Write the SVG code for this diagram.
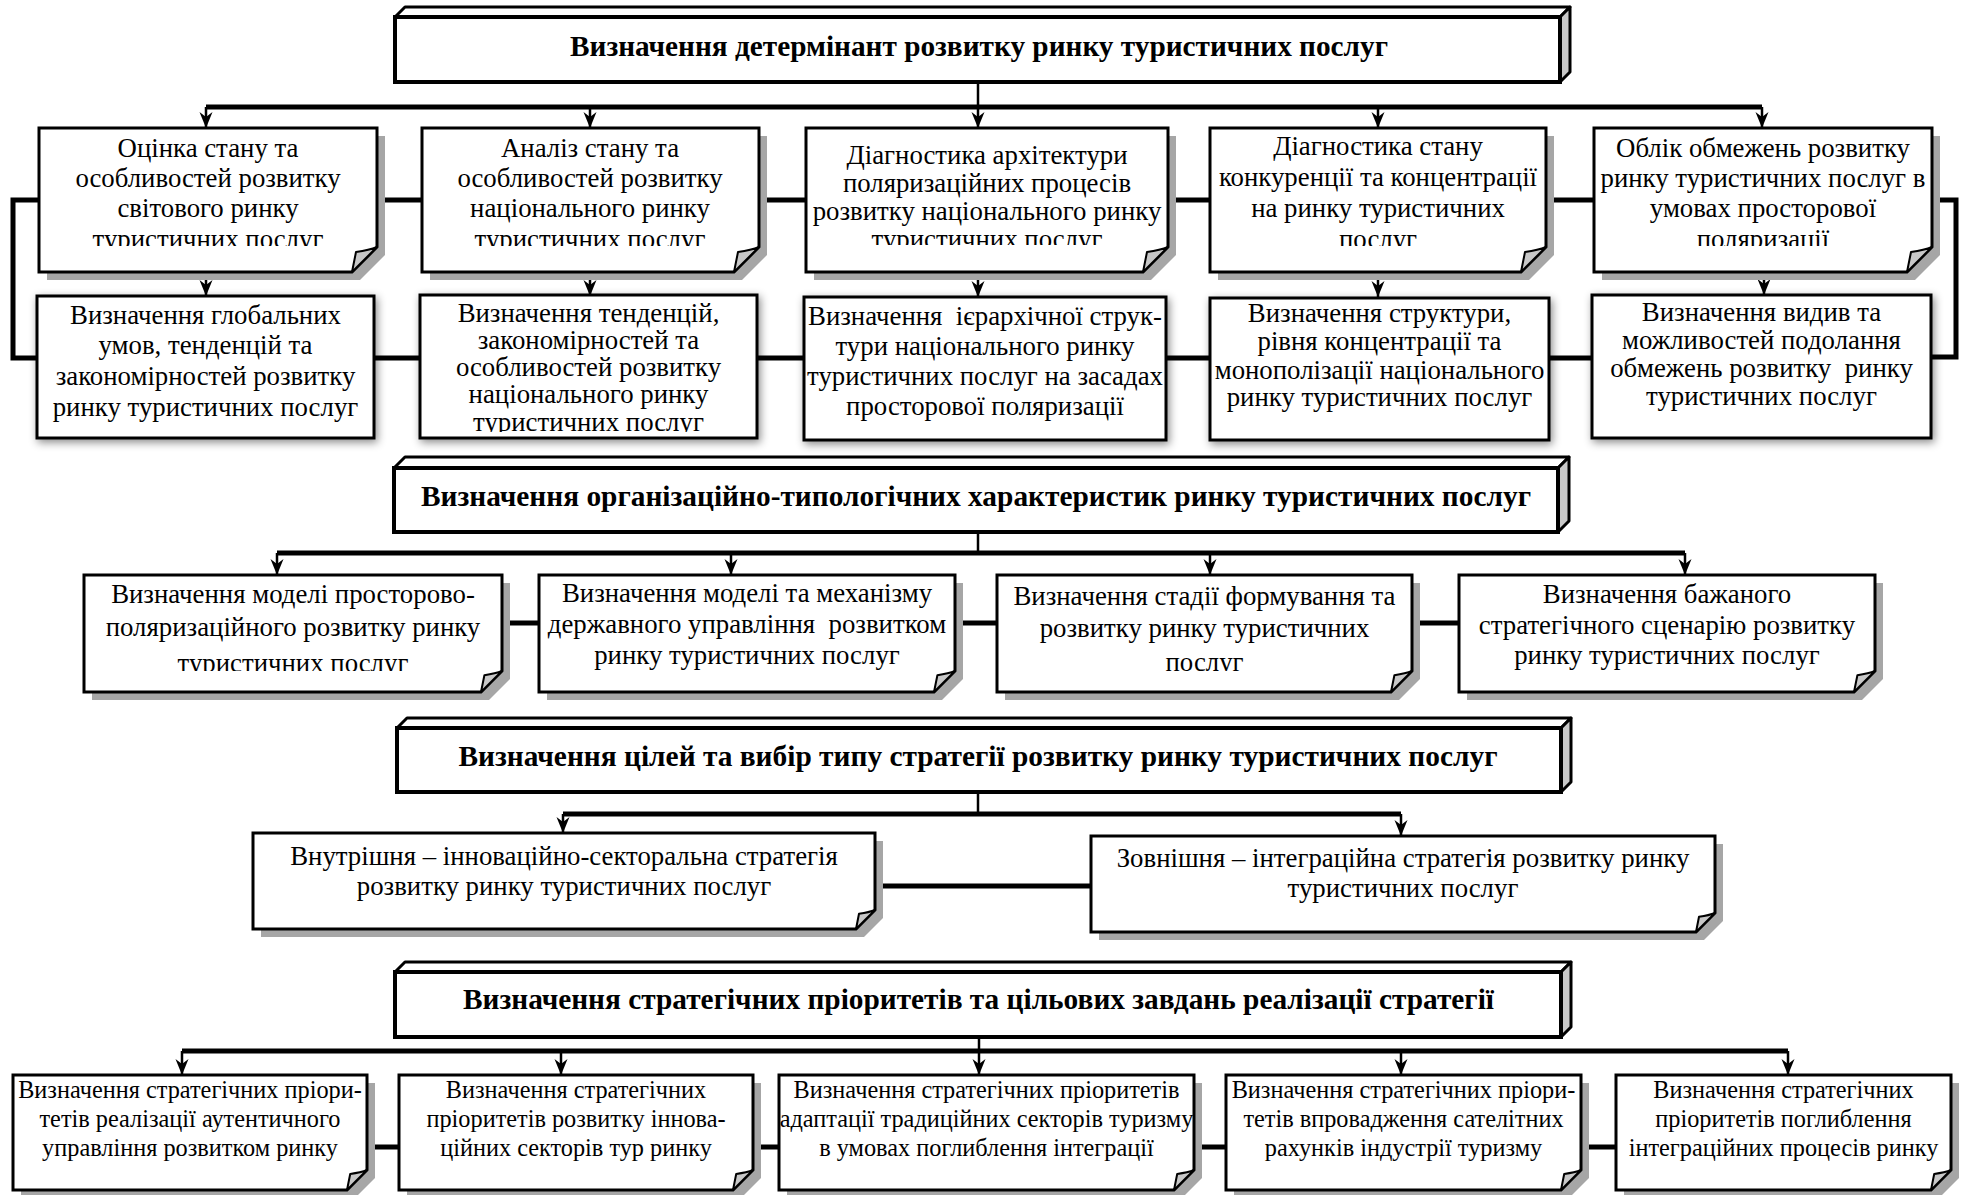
<svg xmlns="http://www.w3.org/2000/svg" width="1964" height="1195" viewBox="0 0 1964 1195">
<style>
.t{font-family:"Liberation Serif","Times New Roman",serif;font-size:26.8px;text-anchor:middle;fill:#000}
.s{font-size:24.3px}
.h{font-family:"Liberation Serif","Times New Roman",serif;font-weight:bold;font-size:29px;text-anchor:middle;fill:#000}
.box{fill:#fff;stroke:#000;stroke-width:3;stroke-linejoin:miter}
.sh{fill:#a6a6a6}
.fold{fill:#c8c8c8;stroke:#000;stroke-width:2;stroke-linejoin:round}
.hf{fill:#fff;stroke:#000;stroke-width:4}
.ht{fill:#fff;stroke:#000;stroke-width:3;stroke-linejoin:round}
.hs{fill:#c8c8c8;stroke:#000;stroke-width:3;stroke-linejoin:round}
.bus{stroke:#000;stroke-width:5;fill:none}
.stem{stroke:#000;stroke-width:2.5;fill:none}
.arr{stroke:#000;stroke-width:2.5;fill:none;marker-end:url(#ah)}
</style>
<defs>
<marker id="ah" viewBox="0 0 16 14" refX="16" refY="7" markerWidth="16" markerHeight="14" markerUnits="userSpaceOnUse" orient="auto">
<path d="M0,0.5 L16,7 L0,13.5 L5,7 Z" fill="#000"/>
</marker>
<filter id="glow" x="-10%" y="-15%" width="120%" height="135%">
<feDropShadow dx="2" dy="3" stdDeviation="4" flood-color="#000" flood-opacity="0.45"/>
</filter>
<clipPath id="cA"><rect x="39" y="128" width="340" height="118"/></clipPath>
<clipPath id="cB"><rect x="422" y="128" width="340" height="118"/></clipPath>
<clipPath id="cC"><rect x="806" y="128" width="365" height="117"/></clipPath>
<clipPath id="cD"><rect x="1210" y="128" width="340" height="118"/></clipPath>
<clipPath id="cE"><rect x="1594" y="128" width="340" height="118"/></clipPath>
<clipPath id="cB2"><rect x="420" y="296" width="337" height="136"/></clipPath>
<clipPath id="cF1"><rect x="84" y="575" width="420" height="96"/></clipPath>
<clipPath id="cF3"><rect x="997" y="575" width="416" height="96"/></clipPath>
</defs>

<g id="connectors">
<!-- level 1 -->
<path class="bus" d="M206,107 H1762"/>
<path class="arr" d="M978,82 V128"/>
<path class="arr" d="M206,107 V128"/>
<path class="arr" d="M590,107 V128"/>
<path class="arr" d="M1378,107 V128"/>
<path class="arr" d="M1762,107 V128"/>
<path class="arr" d="M206,272 V296"/>
<path class="arr" d="M590,272 V296"/>
<path class="arr" d="M978,272 V297"/>
<path class="arr" d="M1378,272 V297"/>
<path class="arr" d="M1764,272 V295"/>
<path class="bus" d="M377,200 H422 M759,200 H806 M1168,200 H1210 M1546,200 H1594"/>
<path class="bus" d="M374,358 H420 M757,358 H804 M1166,358 H1210 M1549,358 H1592"/>
<path class="bus" d="M39,200 H13 V358 H37"/>
<path class="bus" d="M1932,200 H1956 V357 H1931"/>
<!-- level 2 -->
<path class="stem" d="M978,532 V553"/>
<path class="bus" d="M277,553 H1685"/>
<path class="arr" d="M277,553 V575"/>
<path class="arr" d="M731,553 V575"/>
<path class="arr" d="M1210,553 V575"/>
<path class="arr" d="M1685,553 V575"/>
<path class="bus" d="M502,623 H539 M955,623 H997 M1412,623 H1459"/>
<!-- level 3 -->
<path class="stem" d="M978,792 V814"/>
<path class="bus" d="M563,814 H1401"/>
<path class="arr" d="M563,814 V833"/>
<path class="arr" d="M1401,814 V836"/>
<path class="bus" d="M875,886 H1091"/>
<!-- level 4 -->
<path class="arr" d="M979,1037 V1075"/>
<path class="bus" d="M182,1051 H1788"/>
<path class="arr" d="M182,1051 V1075"/>
<path class="arr" d="M561,1051 V1075"/>
<path class="arr" d="M1401,1051 V1075"/>
<path class="arr" d="M1788,1051 V1075"/>
<path class="bus" d="M367,1147 H399 M753,1147 H779 M1194,1147 H1226 M1581,1147 H1616"/>
</g>

<!-- Header 1 -->
<g id="head1">
<polygon class="ht" points="395,17 405,7 1570,7 1560,17"/>
<polygon class="hs" points="1560,17 1570,7 1570,72 1560,82"/>
<rect class="hf" x="395" y="17" width="1165" height="65"/>
<text class="h" x="979" y="56" textLength="818" lengthAdjust="spacingAndGlyphs">Визначення детермінант розвитку ринку туристичних послуг</text>
</g>

<!-- Row 1 -->
<g id="nA">
<path class="sh" transform="translate(8,8)" d="M39,128 H377 V247 L352,272 H39 Z"/>
<path class="box" d="M39,128 H377 V247 L352,272 H39 Z"/>
<path class="fold" d="M352,272 L356,252 Q369.5,250 377,247 Z"/>
<g clip-path="url(#cA)">
<text class="t" x="208" y="157">Оцінка стану та</text>
<text class="t" x="208" y="187">особливостей розвитку</text>
<text class="t" x="208" y="217">світового ринку</text>
<text class="t" x="208" y="248">туристичних послуг</text>
</g>
</g>
<g id="nB">
<path class="sh" transform="translate(8,8)" d="M422,128 H759 V247 L734,272 H422 Z"/>
<path class="box" d="M422,128 H759 V247 L734,272 H422 Z"/>
<path class="fold" d="M734,272 L738,252 Q751.5,250 759,247 Z"/>
<g clip-path="url(#cB)">
<text class="t" x="590" y="157">Аналіз стану та</text>
<text class="t" x="590" y="187">особливостей розвитку</text>
<text class="t" x="590" y="217">національного ринку</text>
<text class="t" x="590" y="248">туристичних послуг</text>
</g>
</g>
<g id="nC">
<path class="sh" transform="translate(8,8)" d="M806,128 H1168 V247 L1143,272 H806 Z"/>
<path class="box" d="M806,128 H1168 V247 L1143,272 H806 Z"/>
<path class="fold" d="M1143,272 L1147,252 Q1160.5,250 1168,247 Z"/>
<g clip-path="url(#cC)">
<text class="t" x="987" y="164">Діагностика архітектури</text>
<text class="t" x="987" y="192">поляризаційних процесів</text>
<text class="t" x="987" y="220">розвитку національного ринку</text>
<text class="t" x="987" y="248">туристичних послуг</text>
</g>
</g>
<g id="nD">
<path class="sh" transform="translate(8,8)" d="M1210,128 H1546 V247 L1521,272 H1210 Z"/>
<path class="box" d="M1210,128 H1546 V247 L1521,272 H1210 Z"/>
<path class="fold" d="M1521,272 L1525,252 Q1538.5,250 1546,247 Z"/>
<g clip-path="url(#cD)">
<text class="t" x="1378" y="155">Діагностика стану</text>
<text class="t" x="1378" y="186">конкуренції та концентрації</text>
<text class="t" x="1378" y="217">на ринку туристичних</text>
<text class="t" x="1378" y="248">послуг</text>
</g>
</g>
<g id="nE">
<path class="sh" transform="translate(8,8)" d="M1594,128 H1932 V247 L1907,272 H1594 Z"/>
<path class="box" d="M1594,128 H1932 V247 L1907,272 H1594 Z"/>
<path class="fold" d="M1907,272 L1911,252 Q1924.5,250 1932,247 Z"/>
<g clip-path="url(#cE)">
<text class="t" x="1763" y="157">Облік обмежень розвитку</text>
<text class="t" x="1763" y="187">ринку туристичних послуг в</text>
<text class="t" x="1763" y="217">умовах просторової</text>
<text class="t" x="1763" y="248">поляризації</text>
</g>
</g>

<!-- Row 2 -->
<g id="nA2">
<rect class="box" x="37" y="296" width="337" height="142" filter="url(#glow)"/>
<text class="t" x="205.5" y="324">Визначення глобальних</text>
<text class="t" x="205.5" y="354">умов, тенденцій та</text>
<text class="t" x="205.5" y="385">закономірностей розвитку</text>
<text class="t" x="205.5" y="416">ринку туристичних послуг</text>
</g>
<g id="nB2">
<rect class="box" x="420" y="295" width="337" height="143" filter="url(#glow)"/>
<g clip-path="url(#cB2)">
<text class="t" x="588.5" y="322">Визначення тенденцій,</text>
<text class="t" x="588.5" y="349">закономірностей та</text>
<text class="t" x="588.5" y="376">особливостей розвитку</text>
<text class="t" x="588.5" y="403">національного ринку</text>
<text class="t" x="588.5" y="431">туристичних послуг</text>
</g>
</g>
<g id="nC2">
<rect class="box" x="804" y="297" width="362" height="143" filter="url(#glow)"/>
<text class="t" x="985" y="325" xml:space="preserve">Визначення  ієрархічної струк-</text>
<text class="t" x="985" y="355">тури національного ринку</text>
<text class="t" x="985" y="385">туристичних послуг на засадах</text>
<text class="t" x="985" y="415">просторової поляризації</text>
</g>
<g id="nD2">
<rect class="box" x="1210" y="298" width="339" height="142" filter="url(#glow)"/>
<text class="t" x="1379.5" y="322">Визначення структури,</text>
<text class="t" x="1379.5" y="350">рівня концентрації та</text>
<text class="t" x="1379.5" y="379">монополізації національного</text>
<text class="t" x="1379.5" y="406">ринку туристичних послуг</text>
</g>
<g id="nE2">
<rect class="box" x="1592" y="295" width="339" height="143" filter="url(#glow)"/>
<text class="t" x="1761.5" y="321">Визначення видив та</text>
<text class="t" x="1761.5" y="349">можливостей подолання</text>
<text class="t" x="1761.5" y="377" xml:space="preserve">обмежень розвитку  ринку</text>
<text class="t" x="1761.5" y="405">туристичних послуг</text>
</g>

<!-- Header 2 -->
<g id="head2">
<polygon class="ht" points="394,468 405,457 1569,457 1558,468"/>
<polygon class="hs" points="1558,468 1569,457 1569,521 1558,532"/>
<rect class="hf" x="394" y="468" width="1164" height="64"/>
<text class="h" x="976" y="506" textLength="1110" lengthAdjust="spacingAndGlyphs">Визначення організаційно-типологічних характеристик ринку туристичних послуг</text>
</g>

<!-- Row 3 -->
<g id="nF1">
<path class="sh" transform="translate(8,8)" d="M84,575 H502 V671 L481,692 H84 Z"/>
<path class="box" d="M84,575 H502 V671 L481,692 H84 Z"/>
<path class="fold" d="M481,692 L484.4,675.2 Q495.7,673.5 502,671 Z"/>
<g clip-path="url(#cF1)">
<text class="t" x="293" y="603">Визначення моделі просторово-</text>
<text class="t" x="293" y="636">поляризаційного розвитку ринку</text>
<text class="t" x="293" y="672">туристичних послуг</text>
</g>
</g>
<g id="nF2">
<path class="sh" transform="translate(8,8)" d="M539,575 H955 V671 L934,692 H539 Z"/>
<path class="box" d="M539,575 H955 V671 L934,692 H539 Z"/>
<path class="fold" d="M934,692 L937.4,675.2 Q948.7,673.5 955,671 Z"/>
<text class="t" x="747" y="602">Визначення моделі та механізму</text>
<text class="t" x="747" y="633" xml:space="preserve">державного управління  розвитком</text>
<text class="t" x="747" y="664">ринку туристичних послуг</text>
</g>
<g id="nF3">
<path class="sh" transform="translate(8,8)" d="M997,575 H1412 V671 L1391,692 H997 Z"/>
<path class="box" d="M997,575 H1412 V671 L1391,692 H997 Z"/>
<path class="fold" d="M1391,692 L1394.4,675.2 Q1405.7,673.5 1412,671 Z"/>
<g clip-path="url(#cF3)">
<text class="t" x="1204.5" y="605">Визначення стадії формування та</text>
<text class="t" x="1204.5" y="637">розвитку ринку туристичних</text>
<text class="t" x="1204.5" y="671">послуг</text>
</g>
</g>
<g id="nF4">
<path class="sh" transform="translate(8,8)" d="M1459,575 H1875 V671 L1854,692 H1459 Z"/>
<path class="box" d="M1459,575 H1875 V671 L1854,692 H1459 Z"/>
<path class="fold" d="M1854,692 L1857.4,675.2 Q1868.7,673.5 1875,671 Z"/>
<text class="t" x="1667" y="603">Визначення бажаного</text>
<text class="t" x="1667" y="634">стратегічного сценарію розвитку</text>
<text class="t" x="1667" y="664">ринку туристичних послуг</text>
</g>

<!-- Header 3 -->
<g id="head3">
<polygon class="ht" points="397,728 407,718 1571,718 1561,728"/>
<polygon class="hs" points="1561,728 1571,718 1571,782 1561,792"/>
<rect class="hf" x="397" y="728" width="1164" height="64"/>
<text class="h" x="978" y="766" textLength="1039" lengthAdjust="spacingAndGlyphs">Визначення цілей та вибір типу стратегії розвитку ринку туристичних послуг</text>
</g>

<!-- Row 4 -->
<g id="nG1">
<path class="sh" transform="translate(8,8)" d="M253,833 H875 V910 L856,929 H253 Z"/>
<path class="box" d="M253,833 H875 V910 L856,929 H253 Z"/>
<path class="fold" d="M856,929 L859,913.8 Q869.3,912.3 875,910 Z"/>
<text class="t" x="564" y="865">Внутрішня – інноваційно-секторальна стратегія</text>
<text class="t" x="564" y="895">розвитку ринку туристичних послуг</text>
</g>
<g id="nG2">
<path class="sh" transform="translate(8,8)" d="M1091,836 H1715 V913 L1696,932 H1091 Z"/>
<path class="box" d="M1091,836 H1715 V913 L1696,932 H1091 Z"/>
<path class="fold" d="M1696,932 L1699,916.8 Q1709.3,915.3 1715,913 Z"/>
<text class="t" x="1403" y="867">Зовнішня – інтеграційна стратегія розвитку ринку</text>
<text class="t" x="1403" y="897">туристичних послуг</text>
</g>

<!-- Header 4 -->
<g id="head4">
<polygon class="ht" points="395,972 405,962 1571,962 1561,972"/>
<polygon class="hs" points="1561,972 1571,962 1571,1027 1561,1037"/>
<rect class="hf" x="395" y="972" width="1166" height="65"/>
<text class="h" x="978.5" y="1009" textLength="1031" lengthAdjust="spacingAndGlyphs">Визначення стратегічних пріоритетів та цільових завдань реалізації стратегії</text>
</g>

<!-- Row 5 -->
<g id="nH1">
<path class="sh" transform="translate(8,8)" d="M13,1075 H367 V1170 L347,1190 H13 Z"/>
<path class="box" d="M13,1075 H367 V1170 L347,1190 H13 Z"/>
<path class="fold" d="M347,1190 L350.2,1174 Q361,1172.4 367,1170 Z"/>
<text class="t s" x="190" y="1098">Визначення стратегічних пріори-</text>
<text class="t s" x="190" y="1127">тетів реалізації аутентичного</text>
<text class="t s" x="190" y="1156">управління розвитком ринку</text>
</g>
<g id="nH2">
<path class="sh" transform="translate(8,8)" d="M399,1075 H753 V1170 L733,1190 H399 Z"/>
<path class="box" d="M399,1075 H753 V1170 L733,1190 H399 Z"/>
<path class="fold" d="M733,1190 L736.2,1174 Q747,1172.4 753,1170 Z"/>
<text class="t s" x="576" y="1098">Визначення стратегічних</text>
<text class="t s" x="576" y="1127">пріоритетів розвитку іннова-</text>
<text class="t s" x="576" y="1156">ційних секторів тур ринку</text>
</g>
<g id="nH3">
<path class="sh" transform="translate(8,8)" d="M779,1075 H1194 V1170 L1174,1190 H779 Z"/>
<path class="box" d="M779,1075 H1194 V1170 L1174,1190 H779 Z"/>
<path class="fold" d="M1174,1190 L1177.2,1174 Q1188,1172.4 1194,1170 Z"/>
<text class="t s" x="986.5" y="1098">Визначення стратегічних пріоритетів</text>
<text class="t s" x="986.5" y="1127">адаптації традиційних секторів туризму</text>
<text class="t s" x="986.5" y="1156">в умовах поглиблення інтеграції</text>
</g>
<g id="nH4">
<path class="sh" transform="translate(8,8)" d="M1226,1075 H1581 V1170 L1561,1190 H1226 Z"/>
<path class="box" d="M1226,1075 H1581 V1170 L1561,1190 H1226 Z"/>
<path class="fold" d="M1561,1190 L1564.2,1174 Q1575,1172.4 1581,1170 Z"/>
<text class="t s" x="1403.5" y="1098">Визначення стратегічних пріори-</text>
<text class="t s" x="1403.5" y="1127">тетів впровадження сателітних</text>
<text class="t s" x="1403.5" y="1156">рахунків індустрії туризму</text>
</g>
<g id="nH5">
<path class="sh" transform="translate(8,8)" d="M1616,1075 H1951 V1170 L1931,1190 H1616 Z"/>
<path class="box" d="M1616,1075 H1951 V1170 L1931,1190 H1616 Z"/>
<path class="fold" d="M1931,1190 L1934.2,1174 Q1945,1172.4 1951,1170 Z"/>
<text class="t s" x="1783.5" y="1098">Визначення стратегічних</text>
<text class="t s" x="1783.5" y="1127">пріоритетів поглиблення</text>
<text class="t s" x="1783.5" y="1156">інтеграційних процесів ринку</text>
</g>
</svg>
